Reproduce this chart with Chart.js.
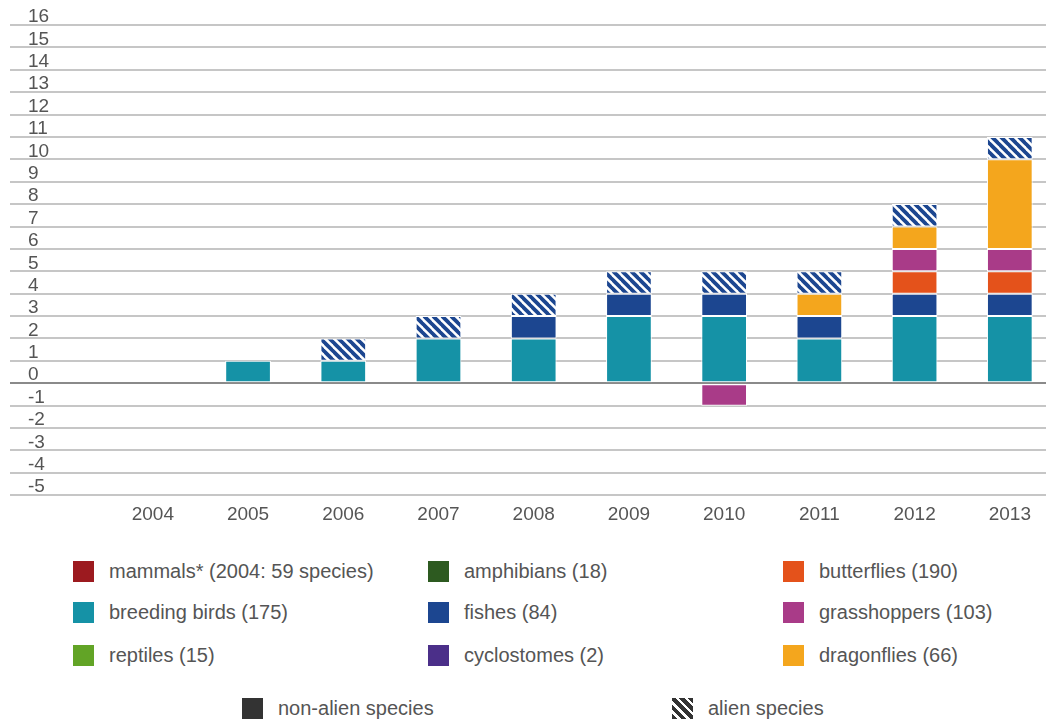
<!DOCTYPE html>
<html>
<head>
<meta charset="utf-8">
<script src="https://cdn.jsdelivr.net/npm/chart.js@4.4.1/dist/chart.umd.min.js"></script>
<style>
body { margin: 0; background: #fff; font-family: "Liberation Sans", Arial, sans-serif; }
#wrap { position: relative; width: 1046px; height: 719px; overflow: hidden; }
#chartBox { position: absolute; left: 0; top: 0; width: 1046px; height: 540px; }
.item { position: absolute; height: 24px; display: flex; align-items: center; font-size: 20px; color: #555; white-space: nowrap; }
.swatch { width: 21px; height: 21px; flex: none; }
.hatch { background: repeating-linear-gradient(45deg, #333 0 4px, #fff 4px 6.5px); }
</style>
</head>
<body>
<div id="wrap">
  <div id="chartBox"><canvas id="mainChart"></canvas></div>
  <div id="legend"></div>
</div>
<script>
// years on the x axis
const years = [2004, 2005, 2006, 2007, 2008, 2009, 2010, 2011, 2012, 2013];

// change in number of species per group, per year
const breedingBirds = [null, 1, 1, 2, 2, 3, 3, 2, 3, 3];
const fishes        = [null, null, null, null, 1, 1, 1, 1, 1, 1];
const butterflies   = [null, null, null, null, null, null, null, null, 1, 1];
const grasshoppers  = [null, null, null, null, null, null, -1, null, 1, 1];
const dragonflies   = [null, null, null, null, null, null, null, 1, 1, 4];
const alienSpecies  = [null, null, 1, 1, 1, 1, 1, 1, 1, 1];
const mammals       = [null, null, null, null, null, null, null, null, null, null];
const amphibians    = [null, null, null, null, null, null, null, null, null, null];
const reptiles      = [null, null, null, null, null, null, null, null, null, null];
const cyclostomes   = [null, null, null, null, null, null, null, null, null, null];

const yTicks = [-5, 16];

// legend rows, left to right
const legendNames = [
    'mammals* (2004: 59 species)', 'amphibians (18)', 'butterflies (190)',
    'breeding birds (175)', 'fishes (84)', 'grasshoppers (103)',
    'reptiles (15)', 'cyclostomes (2)', 'dragonflies (66)'
];
const legendColors = [
    '#9c1a1f', '#2d5a20', '#e4521b',
    '#1592a6', '#1c4690', '#a93b88',
    '#62a426', '#4b2f89', '#f4a61d'
];

function makeHatch() {
    const s = 9;
    const c = document.createElement('canvas');
    c.width = s; c.height = s;
    const g = c.getContext('2d');
    g.fillStyle = '#fff';
    g.fillRect(0, 0, s, s);
    g.strokeStyle = '#1c4690';
    g.lineWidth = 3.8;
    [-s, 0, s].forEach(off => {
        g.beginPath();
        g.moveTo(-1, off - 1);
        g.lineTo(s + 1, s + off + 1);
        g.stroke();
    });
    return g.createPattern(c, 'repeat');
}

const ctx = document.getElementById('mainChart').getContext('2d');
const hatch = makeHatch();

Chart.defaults.font.family = '"Liberation Sans", Arial, sans-serif';
Chart.defaults.color = '#555';

function bar(label, data, color) {
    return {
        label: label,
        data: data,
        backgroundColor: color,
        borderColor: '#fff',
        borderWidth: 1,
        borderSkipped: false,
        categoryPercentage: 0.8,
        barPercentage: 0.6
    };
}

const chart = new Chart(ctx, {
    type: 'bar',
    data: {
        labels: years,
        datasets: [
            bar('breeding birds', breedingBirds, legendColors[3]),
            bar('fishes', fishes, legendColors[4]),
            bar('butterflies', butterflies, legendColors[2]),
            bar('grasshoppers', grasshoppers, legendColors[5]),
            bar('dragonflies', dragonflies, legendColors[8]),
            bar('mammals', mammals, legendColors[0]),
            bar('amphibians', amphibians, legendColors[1]),
            bar('reptiles', reptiles, legendColors[6]),
            bar('cyclostomes', cyclostomes, legendColors[7]),
            bar('alien species', alienSpecies, hatch)
        ]
    },
    options: {
        responsive: true,
        maintainAspectRatio: false,
        animation: false,
        layout: {
            padding: { top: 25, bottom: 14, left: 0, right: 0 }
        },
        plugins: {
            legend: { display: false },
            tooltip: { enabled: false }
        },
        scales: {
            x: {
                type: 'linear',
                stacked: true,
                offset: false,
                min: 2002.5,
                max: 2013.38,
                afterBuildTicks: axis => {
                    axis.ticks = years.map(v => ({ value: v }));
                },
                grid: { display: false, offset: false },
                border: { display: false },
                ticks: {
                    autoSkip: false,
                    maxRotation: 0,
                    padding: 0,
                    color: '#555',
                    font: { size: 19 },
                    callback: v => String(v)
                }
            },
            y: {
                stacked: true,
                min: yTicks[0],
                max: yTicks[1],
                afterFit: axis => {
                    axis.width = 10;
                    axis.paddingTop = 0;
                    axis.paddingBottom = 0;
                },
                grid: {
                    drawTicks: false,
                    lineWidth: 2,
                    color: c => c.tick && c.tick.value === 0 ? '#8a8a8a' : '#c6c6c6'
                },
                border: { display: false },
                ticks: {
                    stepSize: 1,
                    autoSkip: false,
                    mirror: true,
                    padding: 18,
                    labelOffset: -8,
                    color: '#555',
                    font: { size: 19 }
                }
            }
        }
    }
});

// html legend
const legendEl = document.getElementById('legend');
const colX = [73, 428, 783];
const rowY = [571, 612, 655];

function addItem(x, y, swatchHtml, text) {
    const el = document.createElement('div');
    el.className = 'item';
    el.style.left = x + 'px';
    el.style.top = (y - 12) + 'px';
    el.innerHTML = swatchHtml + '<span style="margin-left:15px">' + text + '</span>';
    legendEl.appendChild(el);
}

legendNames.forEach((name, i) => {
    addItem(colX[i % 3], rowY[Math.floor(i / 3)],
        '<div class="swatch" style="background:' + legendColors[i] + '"></div>', name);
});
addItem(242, 708, '<div class="swatch" style="background:#333"></div>', 'non-alien species');
addItem(672, 708, '<div class="swatch hatch"></div>', 'alien species');
</script>
</body>
</html>
